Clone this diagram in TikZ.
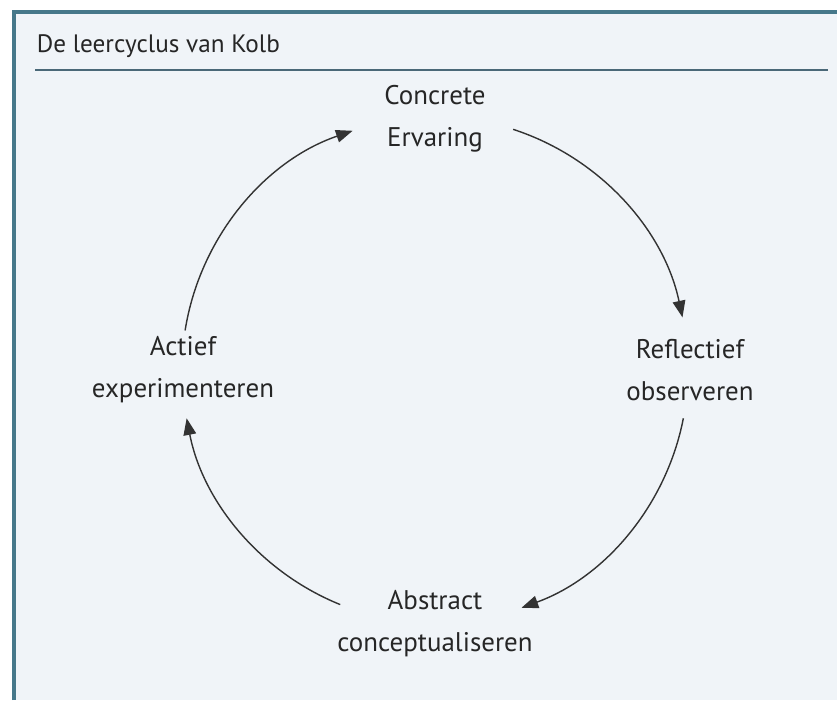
\documentclass[tikz,border=0pt]{standalone}
\usepackage{fontspec}
\setmainfont{PT Sans}
\usetikzlibrary{arrows.meta, calc}

\definecolor{panelbg}{HTML}{F0F4F8}
\definecolor{frameline}{HTML}{46788A}
\definecolor{titleline}{HTML}{4A6878}

\begin{document}
\begin{tikzpicture}[
  stage/.style={align=center, font=\fontsize{23}{36}\selectfont, text=black!85},
  arr/.style={-{Triangle[length=0.5cm, width=0.38cm]}, line width=1.2pt, draw=black!80},
  title/.style={anchor=base west, font=\fontsize{21.5}{26}\selectfont, text=black!85}
]
  \useasboundingbox (0,0) rectangle (25.11,21);
  \fill[white] (0,0) rectangle (25.11,21);
  \fill[panelbg] (0.42,0) rectangle (25.11,20.64);
  \draw[frameline, line width=3pt] (0.42,0) -- (0.42,20.64) -- (25.11,20.64);

  % title strip
  \node[title] (titel) at (0.98,19.41) {De leercyclus van Kolb};
  \draw[titleline, line width=1.7pt] (1.05,18.9) -- (24.84,18.9);

  % the cycle
  \def\rad{7.59}
  \coordinate (c) at (13.05,9.9);
  \node[stage] (ervaring)   at ($(c)+(90:7.53)$)  {Concrete\\Ervaring};
  \node[stage] (reflectie)  at ($(c)+(0:7.65)$)   {Reflectief\\observeren};
  \node[stage] (abstract)   at ($(c)+(270:7.62)$) {Abstract\\conceptualiseren};
  \node[stage] (actief)     at ($(c)+(180:7.56)$) {Actief\\experimenteren};

  \foreach \s/\e in {72/12, -11/-70, 248/191, 171/109}
    \draw[arr] (c) ++(\s:\rad) arc[start angle=\s, end angle=\e, radius=\rad];
\end{tikzpicture}
\end{document}
